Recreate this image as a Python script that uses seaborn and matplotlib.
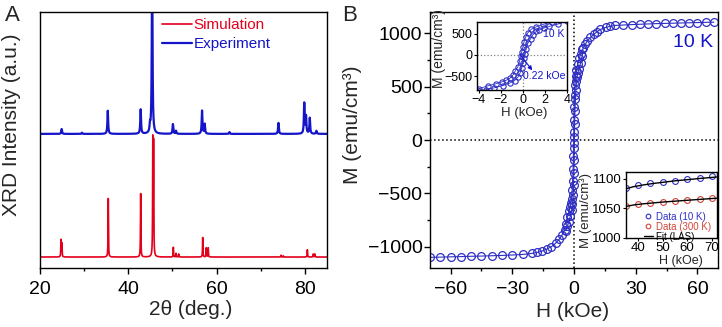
import numpy as np
import pandas as pd
import seaborn as sns
import matplotlib.pyplot as plt
from matplotlib.ticker import MultipleLocator

# ==========================
# DATA
# ==========================
# panel A: XRD peaks (2theta in deg, height in a.u.)
sim_pos = [24.75, 24.95, 35.46, 42.8, 45.55, 45.72, 50.2, 50.8, 51.4,
           56.85, 57.65, 58.1, 74.6, 75.1, 80.55, 81.9, 82.25]
sim_height = [14, 11, 48, 52, 93, 90, 8, 3, 2.5,
              16, 7.5, 7.5, 1.5, 1, 6, 2.5, 2.5]
exp_pos = [24.9, 29.5, 35.35, 42.8, 44.9, 45.4, 50.1, 50.8, 56.7,
           57.3, 62.9, 74.0, 79.85, 80.25, 81.1, 82.6]
exp_height = [4, 1, 19, 20, 6, 140, 8, 2.5, 19,
              8, 1.5, 9, 25, 14, 13, 2.5]
exp_offset = 101

# panel B: M-H loop, high field part
h_neg = [-70, -65, -60, -55, -50, -45, -40, -35, -30, -25, -20.5, -18, -15.7,
         -13.3, -11, -9, -7.2, -5.8, -4.6]
m_neg = [-1100, -1098, -1095, -1093, -1090, -1088, -1085, -1082, -1078, -1073,
         -1063, -1054, -1042, -1023, -1000, -968, -930, -890, -845]
h_pos = [4.4, 5.5, 6.5, 8.0, 9.6, 11.2, 12.8, 15.3, 17.7, 20, 24, 28, 32, 36,
         40, 44, 48, 52, 56, 60, 64, 68]
m_pos = [860, 897, 930, 962, 990, 1014, 1036, 1055, 1067, 1074, 1078, 1082,
         1085, 1088, 1091, 1093, 1095, 1097, 1099, 1101, 1103, 1105]

# low field loop (inset A), both branches
h_down = [4.0, 3.3, 2.6, 1.8, 1.2, 0.75, 0.45, 0.25, 0.1, 0.0, -0.1, -0.2,
          -0.3, -0.45, -0.7, -0.9, -1.2, -1.5, -1.9, -2.4, -3.2, -4.0]
m_down = [850, 810, 770, 715, 660, 600, 520, 420, 305, 190, 75, -25,
          -150, -275, -380, -470, -550, -590, -630, -670, -725, -790]
h_up = [-4.0, -3.3, -2.6, -1.8, -1.2, -0.75, -0.45, -0.25, -0.1, 0.0, 0.1, 0.2,
        0.3, 0.45, 0.7, 0.9, 1.2, 1.5, 1.9, 2.4, 3.2, 4.0]
m_up = [-850, -810, -770, -715, -660, -600, -520, -420, -305, -190, -75, 25,
        150, 275, 380, 470, 550, 590, 630, 670, 725, 790]

# high field zoom (inset B)
h_hi = [35, 40, 45, 50, 55, 60, 65, 70]
m_10k = [1084, 1089, 1092, 1094, 1097, 1099, 1101, 1104]
m_300k = [1054, 1057, 1059, 1061, 1063, 1064, 1066, 1067]
h_fit = [35, 38, 42, 46, 50, 55, 60, 65, 72]
fit_10k = [1083, 1086.5, 1089.5, 1092, 1094, 1096.5, 1098.5, 1100.5, 1103]
fit_300k = [1053, 1055.5, 1057.5, 1059, 1060.5, 1062, 1063.5, 1065, 1067]

# ==========================
# STYLE
# ==========================
sns.set_theme(style="ticks")
plt.rcParams["font.family"] = ["Liberation Sans", "DejaVu Sans"]
plt.rcParams["axes.edgecolor"] = "black"
plt.rcParams["axes.linewidth"] = 1.0
plt.rcParams["xtick.color"] = "black"
plt.rcParams["ytick.color"] = "black"

RED = "#e3001b"
BLUE = "#1414c8"
LBLUE = "#2f2fc4"
LRED = "#d0453a"

fig = plt.figure(figsize=(7.22, 3.27), dpi=100)
axA = fig.add_axes([0.0554, 0.1804, 0.3975, 0.7829])
axB = fig.add_axes([0.5956, 0.1804, 0.3989, 0.7829])

# ==========================
# PANEL A: XRD
# ==========================
tt = np.linspace(20, 85, 13001)


def profile(pos, height, w):
    y = np.zeros_like(tt)
    for p, h in zip(pos, height):
        y += h / (1 + ((tt - p) / w) ** 2)
    return y


xrd = pd.DataFrame({
    "two_theta": tt,
    "sim": profile(sim_pos, sim_height, 0.05),
    "exp": profile(exp_pos, exp_height, 0.1) + exp_offset,
})
sns.lineplot(data=xrd, x="two_theta", y="sim", color=RED, lw=1.2,
             label="Simulation", estimator=None, ax=axA)
sns.lineplot(data=xrd, x="two_theta", y="exp", color=BLUE, lw=1.6,
             label="Experiment", estimator=None, ax=axA)

axA.set_xlim(20, 85)
axA.set_ylim(-9, 201)
axA.xaxis.set_major_locator(MultipleLocator(20))
axA.xaxis.set_minor_locator(MultipleLocator(10))
axA.tick_params(axis="x", which="both", direction="out", labelsize=14, pad=5)
axA.tick_params(axis="x", which="major", length=4, width=1)
axA.tick_params(axis="x", which="minor", length=2.5, width=1)
axA.tick_params(axis="y", left=False, labelleft=False)
axA.set_xlabel("2θ (deg.)", fontsize=15)
axA.set_ylabel("XRD Intensity (a.u.)", fontsize=15)
axA.xaxis.set_label_coords(0.526, -0.125)
axA.yaxis.set_label_coords(-0.066, 0.56)
axA.legend(loc="upper left", bbox_to_anchor=(0.425, 0.975), frameon=False,
           fontsize=11, handlelength=1.95, handletextpad=0.1, borderpad=0,
           borderaxespad=0, labelspacing=0.3, labelcolor="linecolor")

# ==========================
# PANEL B: M-H loop
# ==========================
loop_main = pd.DataFrame({"H": h_neg + h_up + h_pos, "M": m_neg + m_up + m_pos})
loop_down = pd.DataFrame({"H": h_down, "M": m_down})
loop_up = pd.DataFrame({"H": h_up, "M": m_up})

axB.axhline(0, color="black", ls=":", lw=1.1, zorder=1)
axB.axvline(0, color="black", ls=":", lw=1.1, zorder=1)
for df in (loop_main, loop_down):
    sns.lineplot(data=df, x="H", y="M", sort=False, estimator=None, color=LBLUE,
                 lw=0.8, marker="o", markersize=5.6, markerfacecolor="none",
                 markeredgecolor=LBLUE, markeredgewidth=0.9, ax=axB)

axB.set_xlim(-70, 70)
axB.set_ylim(-1200, 1200)
axB.xaxis.set_major_locator(MultipleLocator(30))
axB.xaxis.set_minor_locator(MultipleLocator(15))
axB.yaxis.set_major_locator(MultipleLocator(500))
axB.yaxis.set_minor_locator(MultipleLocator(250))
axB.tick_params(which="both", direction="out", labelsize=14, width=1)
axB.tick_params(which="major", length=4)
axB.tick_params(which="minor", length=2.5)
axB.tick_params(axis="x", pad=5)
axB.tick_params(axis="y", pad=1.5)
axB.set_xlabel("H (kOe)", fontsize=15)
axB.set_ylabel("M (emu/cm³)", fontsize=15)
axB.xaxis.set_label_coords(0.495, -0.133)
axB.yaxis.set_label_coords(-0.236, 0.56)
axB.text(0.983, 0.879, "10 K", transform=axB.transAxes, ha="right", va="center",
         fontsize=14, color=BLUE)

# --- inset: low field loop ---
ins1 = fig.add_axes([0.6607, 0.7248, 0.1247, 0.2089])
ins1.set_facecolor("white")
ins1.axhline(0, color="#808080", ls=":", lw=0.9)
ins1.axvline(0, color="#808080", ls=":", lw=0.9)
for df in (loop_down, loop_up):
    sns.lineplot(data=df, x="H", y="M", sort=False, estimator=None, color=LBLUE,
                 lw=0.6, marker="o", markersize=3.8, markerfacecolor="none",
                 markeredgecolor=LBLUE, markeredgewidth=0.8, ax=ins1)
ins1.set_xlim(-4.15, 4)
ins1.set_ylim(-820, 780)
ins1.set_xticks([-4, -2, 0, 2, 4])
ins1.set_yticks([-500, 0, 500])
ins1.tick_params(direction="out", length=2, width=0.8, labelsize=9, pad=1)
ins1.set_xlabel("H (kOe)", fontsize=9.5)
ins1.set_ylabel("M (emu/cm³)", fontsize=10)
ins1.xaxis.set_label_coords(0.525, -0.25)
ins1.yaxis.set_label_coords(-0.34, 0.6)
ins1.text(2.8, 490, "10 K", ha="center", va="center", fontsize=7.5, color=BLUE)
ins1.text(0.05, -490, "0.22 kOe", ha="left", va="center", fontsize=7.5, color=BLUE)
ins1.annotate("", xy=(0.85, -360), xytext=(-0.22, 0),
              arrowprops=dict(arrowstyle="-|>", color=BLUE, lw=0.8,
                              mutation_scale=6, shrinkA=0, shrinkB=0))

# --- inset: high field approach to saturation ---
ins2 = fig.add_axes([0.867, 0.2731, 0.1256, 0.2])
ins2.set_facecolor("white")
sns.lineplot(x=h_hi, y=m_10k, ls="none", marker="o", markersize=4.2,
             markerfacecolor="none", markeredgecolor=LBLUE, markeredgewidth=0.8,
             color=LBLUE, label="Data (10 K)", estimator=None, ax=ins2)
sns.lineplot(x=h_hi, y=m_300k, ls="none", marker="o", markersize=4.2,
             markerfacecolor="none", markeredgecolor=LRED, markeredgewidth=0.8,
             color=LRED, label="Data (300 K)", estimator=None, ax=ins2)
sns.lineplot(x=h_fit, y=fit_10k, color="black", lw=1.0, label="Fit (LAS)",
             estimator=None, ax=ins2)
sns.lineplot(x=h_fit, y=fit_300k, color="black", lw=1.0, estimator=None,
             legend=False, ax=ins2)
ins2.set_xlim(35, 72)
ins2.set_ylim(1000, 1111)
ins2.set_xticks([40, 50, 60, 70])
ins2.set_yticks([1000, 1050, 1100])
ins2.tick_params(direction="out", length=2, width=0.8, labelsize=9.5, pad=1)
ins2.set_xlabel("H (kOe)", fontsize=9)
ins2.set_ylabel("M (emu/cm³)", fontsize=9.5)
ins2.xaxis.set_label_coords(0.6, -0.265)
ins2.yaxis.set_label_coords(-0.37, 0.42)
handles, labels = ins2.get_legend_handles_labels()
ins2.legend(handles[:3], labels[:3], loc="lower left", bbox_to_anchor=(0.2, -0.06),
            frameon=False, fontsize=7.0, handlelength=0.9, handletextpad=0.3,
            borderpad=0, borderaxespad=0, labelspacing=0.0, markerscale=0.8,
            labelcolor=[LBLUE, LRED, "black"])

# panel letters
fig.text(0.007, 0.985, "A", fontsize=16, va="top", ha="left")
fig.text(0.474, 0.985, "B", fontsize=16, va="top", ha="left")

fig.savefig("out.png", dpi=100)
